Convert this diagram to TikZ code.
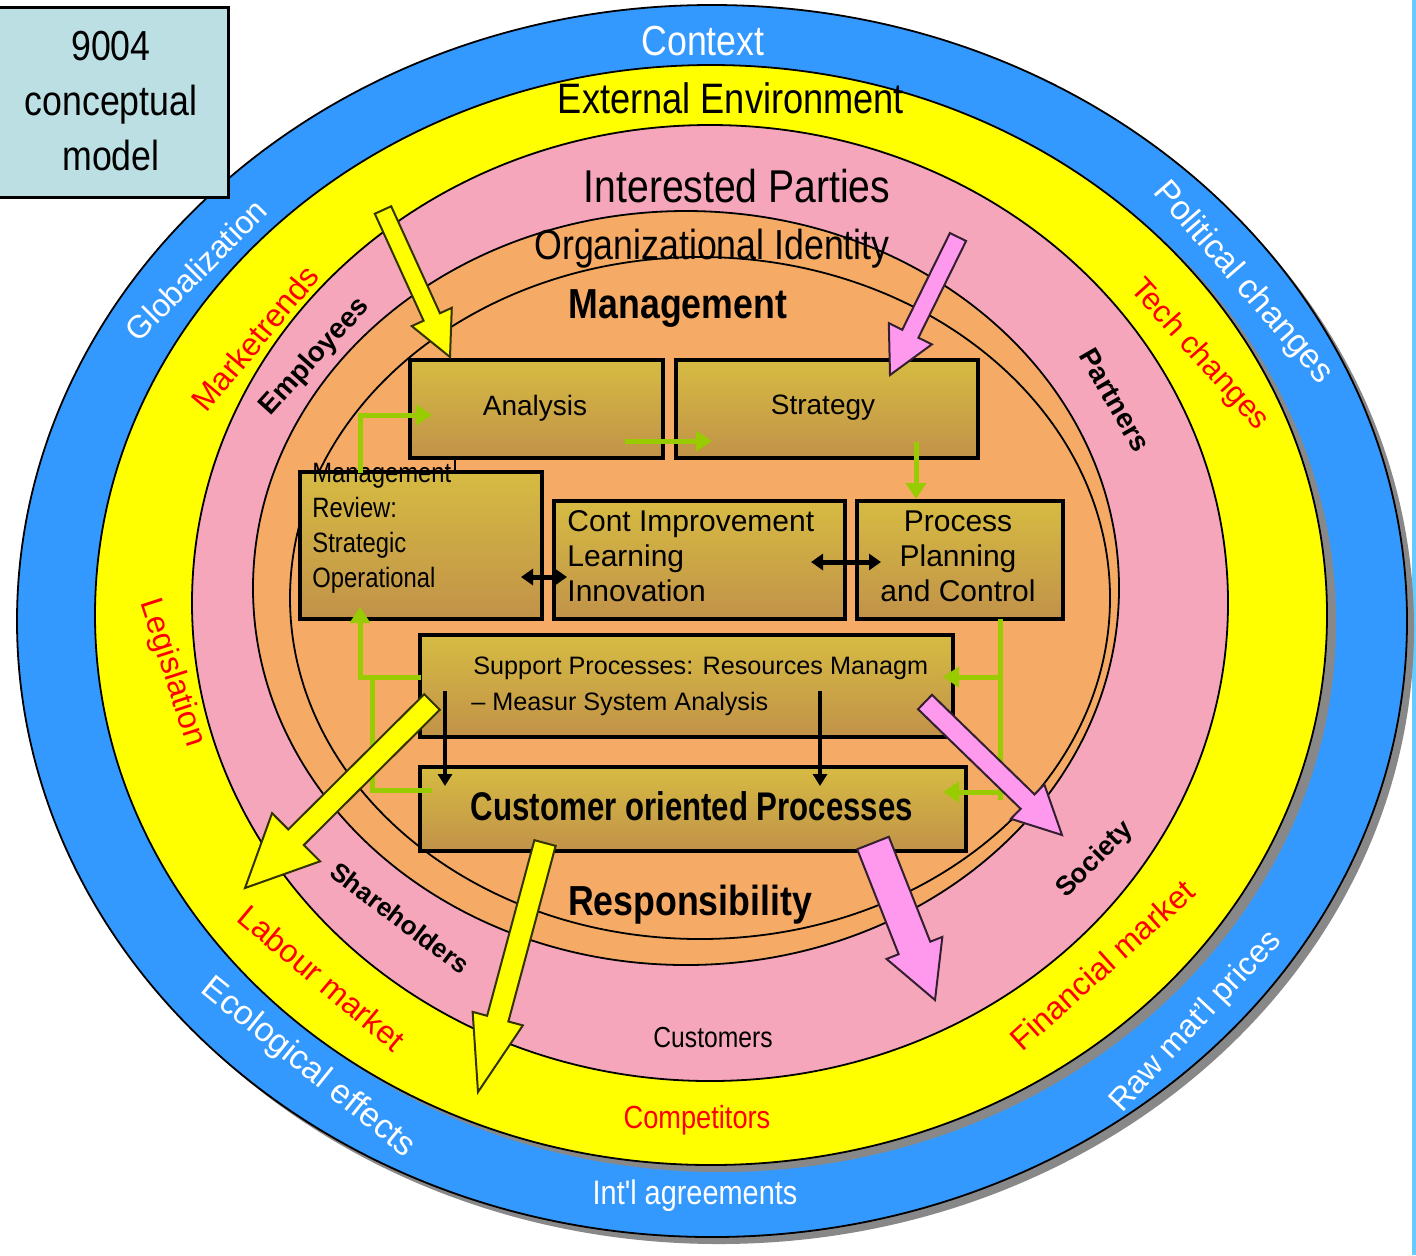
\documentclass[tikz,border=0pt]{standalone}
\usepackage{fontspec}
\setmainfont{Liberation Sans}
\newfontfamily\nar[FakeStretch=0.85]{Liberation Sans}
\newfontfamily\narr[FakeStretch=0.78]{Liberation Sans}
\usetikzlibrary{calc,arrows.meta}
\definecolor{ringblue}{HTML}{3399FF}
\definecolor{ringyellow}{HTML}{FFFF00}
\definecolor{ringpink}{HTML}{F5A6BA}
\definecolor{ringorange}{HTML}{F5AB66}
\definecolor{boxtop}{HTML}{D6BB42}
\definecolor{boxbot}{HTML}{C19249}
\definecolor{gline}{HTML}{99CC00}
\definecolor{parrow}{HTML}{FF99EE}
\definecolor{titlebox}{HTML}{BBDFE3}
\definecolor{shadow}{HTML}{888888}
\definecolor{edgeblue}{HTML}{66CCFF}
\newcommand{\fs}[2]{\fontsize{#1}{#2}\selectfont}
\newcommand{\blockarrow}[6]{%
  \coordinate (ba-m) at ($(#3)!#6!(#2)$);
  \filldraw[#1] ($(#2)!#4!90:(#3)$) -- ($(ba-m)!#4!90:(#3)$) -- ($(ba-m)!#5!90:(#3)$) -- (#3)
    -- ($(ba-m)!#5!-90:(#3)$) -- ($(ba-m)!#4!-90:(#3)$) -- ($(#2)!#4!-90:(#3)$) -- cycle;}
\begin{document}
\begin{tikzpicture}[x=0.5pt,y=-0.5pt,
  ring/.style={draw=black,line width=0.9pt},
  box/.style={rectangle,draw=black,line width=1.6pt,top color=boxtop,bottom color=boxbot,inner sep=0pt},
  lbl/.style={inner sep=0pt},
  garrow/.style={draw=gline,line width=2.5pt,-{Triangle[length=8pt,width=10pt]}},
  gplain/.style={draw=gline,line width=2.5pt},
  dbl/.style={draw=black,line width=2.5pt,{Triangle[length=6pt,width=8pt]}-{Triangle[length=6pt,width=8pt]}},
  down/.style={draw=black,line width=2pt,-{Triangle[length=6pt,width=7pt]}},
  yarrow/.style={fill=ringyellow,draw=black!80!ringyellow,line width=1pt},
  parr/.style={fill=parrow,draw=black!80!parrow,line width=1pt}]
\useasboundingbox (0,0) rectangle (1416,1255);
\fill[white] (0,0) rectangle (1416,1255);
\fill[edgeblue] (1412,0) rectangle (1416,1255);
% rings
\fill[shadow] (719,628) ellipse [x radius=347.5pt, y radius=308pt];
\draw[ring,fill=ringblue] (712,621) ellipse [x radius=347.5pt, y radius=308pt];
\fill[shadow] (720,622) ellipse [x radius=308pt, y radius=275pt];
\draw[ring,fill=ringyellow] (711,615) ellipse [x radius=308pt, y radius=275pt];
\draw[ring,fill=ringpink] (710,603) ellipse [x radius=259pt, y radius=239pt];
\draw[ring,fill=ringorange] (686,588) ellipse [x radius=216.5pt, y radius=188.5pt];
\draw[ring] (700,598) ellipse [x radius=205pt, y radius=170.5pt];
% title box
\node[rectangle,draw=black,line width=1.5pt,fill=titlebox,minimum width=116pt,minimum height=95pt,inner sep=0pt] (title) at (112,102) {};
\node[lbl,align=center,font=\nar\fs{21pt}{27.5pt}] (titletext) at (111,101) {9004\\conceptual\\model};
% ring labels
\node[lbl,anchor=base,text=white,font=\nar\fs{21pt}{25pt}] (context) at (703,55) {Context};
\node[lbl,anchor=base,font=\nar\fs{21.3pt}{25pt}] (extenv) at (731,113) {External Environment};
\node[lbl,anchor=base,font=\nar\fs{23pt}{27pt}] (intpart) at (737,202) {Interested Parties};
\node[lbl,anchor=base,font=\nar\fs{21pt}{25pt}] (orgid) at (712,259) {Organizational Identity};
\node[lbl,anchor=base,font=\nar\bfseries\fs{21pt}{25pt}] (mgmt) at (678,318) {Management};
\node[lbl,anchor=base,font=\nar\bfseries\fs{21pt}{25pt}] (resp) at (690,915) {Responsibility};
\node[lbl,anchor=base,font=\nar\fs{14.5pt}{16pt}] (cust) at (713,1047) {Customers};
\node[lbl,anchor=base,text=red,font=\nar\fs{16pt}{18pt}] (comp) at (697,1128) {Competitors};
\node[lbl,anchor=base,text=white,font=\nar\fs{17pt}{20pt}] (intl) at (695,1204) {Int'l agreements};
\node[lbl,rotate=45,text=white,font=\fs{16pt}{18pt}] (glob) at (196,270) {Globalization};
\node[lbl,rotate=50,text=red,font=\fs{16pt}{18pt}] (mkt) at (255,338) {Marketrends};
\node[lbl,rotate=48,font=\bfseries\fs{14pt}{16pt}] (empl) at (315,357) {Employees};
\node[lbl,rotate=-49,text=white,font=\fs{17pt}{19pt}] (polit) at (1243,283) {Political changes};
\node[lbl,rotate=-48,text=red,font=\fs{15.5pt}{18pt}] (tech) at (1199,355) {Tech changes};
\node[lbl,rotate=-60,font=\bfseries\fs{14pt}{16pt}] (partn) at (1115,400) {Partners};
\node[lbl,rotate=-72,text=red,font=\fs{16pt}{18pt}] (legis) at (172,673) {Legislation};
\node[lbl,rotate=-40,text=red,font=\fs{16pt}{18pt}] (labour) at (322,978) {Labour market};
\node[lbl,rotate=-37,font=\bfseries\fs{13pt}{15pt}] (share) at (400,918) {Shareholders};
\node[lbl,rotate=-39,text=white,font=\fs{17pt}{19pt}] (ecol) at (308,1068) {Ecological effects};
\node[lbl,rotate=45,font=\bfseries\fs{13.5pt}{16pt}] (soc) at (1095,860) {Society};
\node[lbl,rotate=42,text=red,font=\fs{16pt}{18pt}] (fin) at (1102,965) {Financial market};
\node[lbl,rotate=47,text=white,font=\fs{16pt}{18pt}] (raw) at (1196,1022) {Raw mat'l prices};
% boxes
\node[box,minimum width=126.5pt,minimum height=49pt] (an) at (536.5,409) {};
\node[box,minimum width=151pt,minimum height=49pt] (st) at (827,409) {};
\node[box,minimum width=121pt,minimum height=73.5pt] (mr) at (421,545.5) {};
\node[box,minimum width=145.5pt,minimum height=59pt] (ci) at (699.5,560) {};
\node[box,minimum width=103pt,minimum height=59pt] (pp) at (960,560) {};
\node[box,minimum width=266.5pt,minimum height=51pt] (sp) at (686.5,686) {};
\node[box,minimum width=273pt,minimum height=42pt] (co) at (693,809) {};
% box texts
\node[lbl,font=\fs{14pt}{16pt}] (antext) at (535,408) {Analysis};
\node[lbl,font=\fs{14pt}{16pt}] (sttext) at (823,408) {Strategy};
\node[lbl,anchor=north west,align=left,font=\nar\fs{14pt}{17.5pt}] (mrtext) at (312,463) {Management\\Review:\\Strategic\\Operational};
\node[lbl,anchor=north west,align=left,font=\fs{15pt}{17.5pt}] (citext) at (567,510) {Cont Improvement\\Learning\\Innovation};
\node[lbl,anchor=north,align=center,font=\fs{15pt}{17.5pt}] (pptext) at (958,510) {Process\\Planning\\and Control};
\node[lbl,anchor=north west,align=left,font=\fs{12.6pt}{18pt}] (sptext) at (471,656) {\hspace*{1pt}Support Processes: Resources Managm\\– Measur System Analysis};
\node[lbl,anchor=base,font=\narr\bfseries\fs{20pt}{24pt}] (cotext) at (692,820) {Customer oriented Processes};
% connectors
\coordinate (g1a) at (360,473);
\coordinate (g1b) at (432,415);
\draw[garrow] (g1a) |- (g1b);
\coordinate (g2a) at (625,441);
\coordinate (g2b) at (712,441);
\draw[garrow] (g2a) -- (g2b);
\coordinate (g3a) at (916,442);
\coordinate (g3b) at (916,499);
\draw[garrow] (g3a) -- (g3b);
\coordinate (g4a) at (1000,619);
\coordinate (g4b) at (1000,800);
\coordinate (g4c) at (1000,677);
\coordinate (g4d) at (1000,792);
\coordinate (g4e) at (943,677);
\coordinate (g4f) at (943,792);
\draw[gplain] (g4a) -- (g4b);
\draw[garrow] (g4c) -- (g4e);
\draw[garrow] (g4d) -- (g4f);
\coordinate (g5a) at (421,677);
\coordinate (g5b) at (360,607);
\draw[garrow] (g5a) -| (g5b);
\coordinate (g6a) at (372,677);
\coordinate (g6b) at (432,790);
\draw[gplain] (g6a) |- (g6b);
\coordinate (k1a) at (521,577);
\coordinate (k1b) at (567,577);
\draw[dbl] (k1a) -- (k1b);
\coordinate (k2a) at (811,562);
\coordinate (k2b) at (881,562);
\draw[dbl] (k2a) -- (k2b);
\coordinate (k3a) at (445,691);
\coordinate (k3b) at (445,786);
\draw[down] (k3a) -- (k3b);
\coordinate (k4a) at (820,691);
\coordinate (k4b) at (820,786);
\draw[down] (k4a) -- (k4b);
\draw[black,line width=1pt] (an.south -| 455,0) -- (mr.north -| 455,0);
% block arrows
\coordinate (a1s) at (383,210); \coordinate (a1e) at (450,357);
\blockarrow{yarrow}{a1s}{a1e}{4.5pt}{11pt}{22pt}
\coordinate (a2s) at (958,237); \coordinate (a2e) at (890,375);
\blockarrow{parr}{a2s}{a2e}{4.5pt}{12pt}{23pt}
\coordinate (a3s) at (432,702); \coordinate (a3e) at (245,888);
\blockarrow{yarrow}{a3s}{a3e}{5.5pt}{17pt}{36pt}
\coordinate (a4s) at (545,843); \coordinate (a4e) at (478,1092);
\blockarrow{yarrow}{a4s}{a4e}{5.5pt}{13pt}{38pt}
\coordinate (a5s) at (925,702); \coordinate (a5e) at (1062,835);
\blockarrow{parr}{a5s}{a5e}{5pt}{12pt}{24pt}
\coordinate (a6s) at (873,843); \coordinate (a6e) at (935,1000);
\blockarrow{parr}{a6s}{a6e}{8.5pt}{15pt}{28pt}
\end{tikzpicture}
\end{document}
